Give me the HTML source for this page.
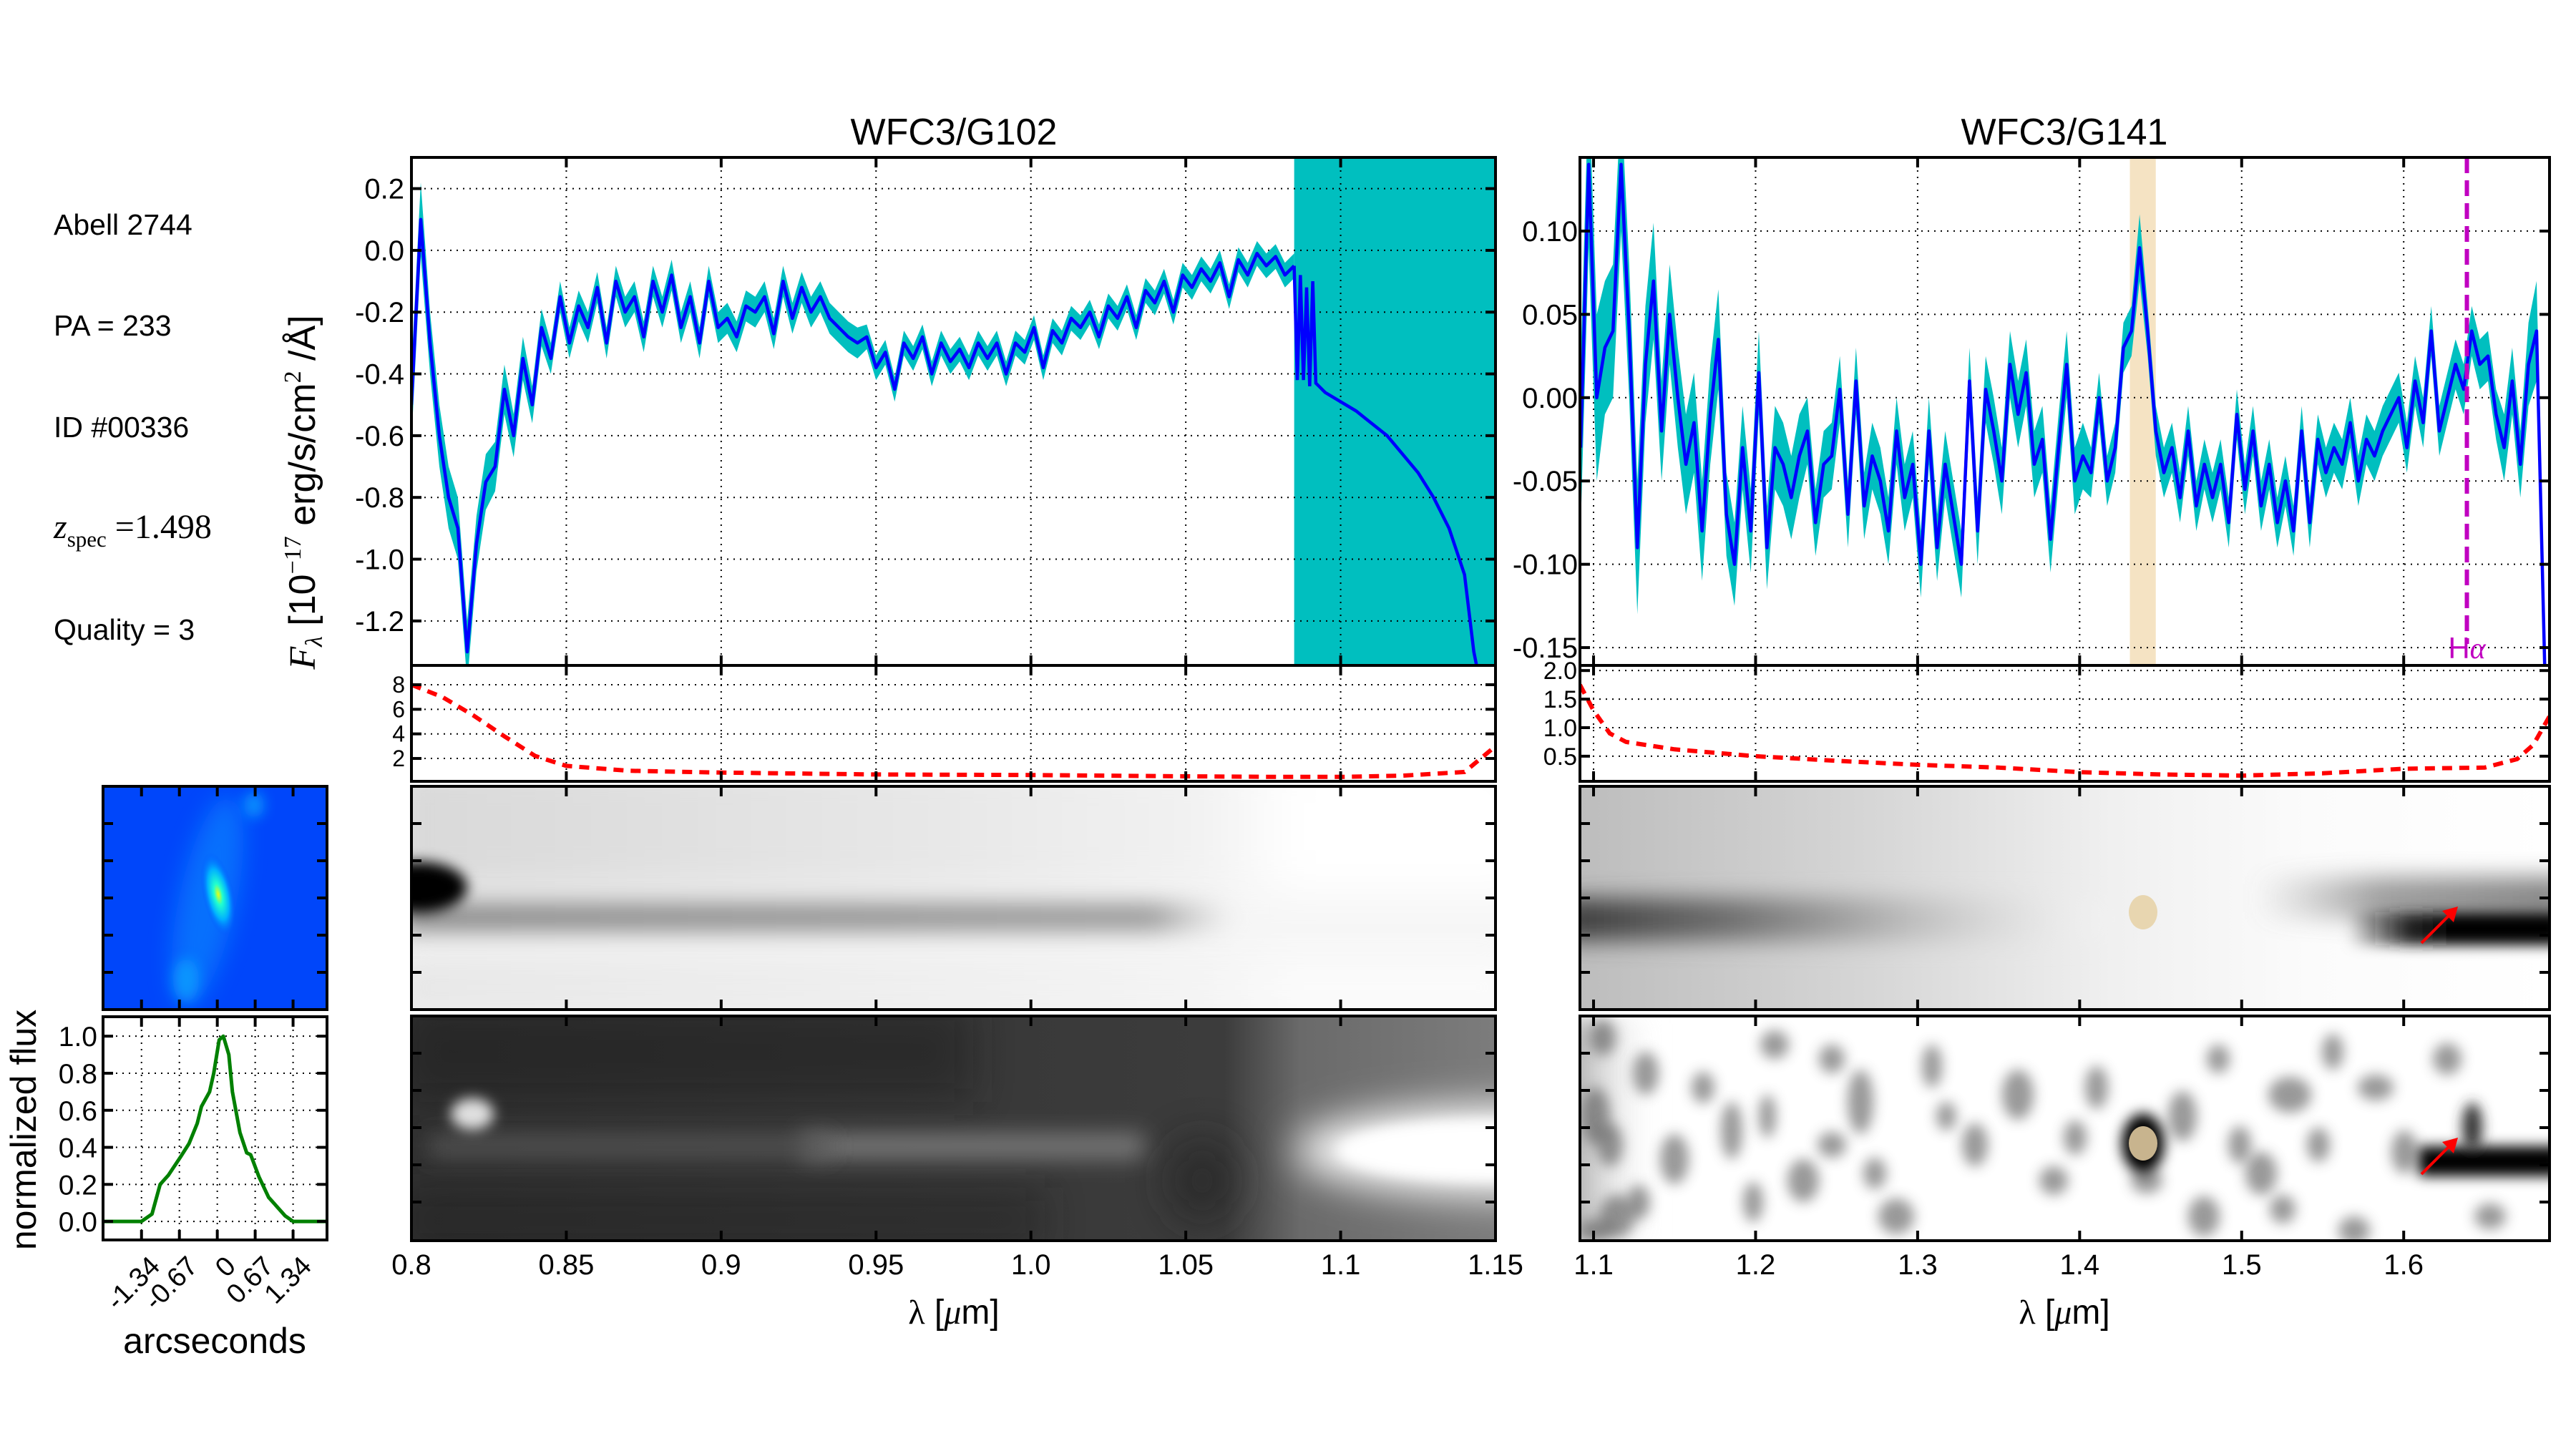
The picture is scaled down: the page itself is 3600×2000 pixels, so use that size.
<!DOCTYPE html>
<html><head><meta charset="utf-8">
<style>
html,body{margin:0;padding:0;background:#fff;}
svg{display:block;font-family:"Liberation Sans",sans-serif;}
</style></head>
<body>
<svg id="fig" xmlns="http://www.w3.org/2000/svg" width="3600" height="2000" viewBox="0 0 3600 2000">
<defs>
<filter id="b6" x="-100%" y="-100%" width="300%" height="300%"><feGaussianBlur stdDeviation="9"/></filter>
<filter id="b12" x="-100%" y="-100%" width="300%" height="300%"><feGaussianBlur stdDeviation="16"/></filter>
<filter id="b20" x="-100%" y="-100%" width="300%" height="300%"><feGaussianBlur stdDeviation="28"/></filter>
<clipPath id="cMain1"><rect x="575" y="220" width="1515" height="710"/></clipPath>
<clipPath id="cLow1"><rect x="575" y="930" width="1515" height="162"/></clipPath>
<clipPath id="cMain2"><rect x="2208" y="220" width="1355" height="710"/></clipPath>
<clipPath id="cLow2"><rect x="2208" y="930" width="1355" height="162"/></clipPath>
<clipPath id="cA"><rect x="575" y="1099" width="1515" height="312"/></clipPath>
<clipPath id="cB"><rect x="575" y="1420" width="1515" height="314"/></clipPath>
<clipPath id="cC"><rect x="2208" y="1099" width="1355" height="312"/></clipPath>
<clipPath id="cD"><rect x="2208" y="1420" width="1355" height="314"/></clipPath>
<clipPath id="cT"><rect x="144" y="1099" width="313" height="312"/></clipPath>
<clipPath id="cP"><rect x="144" y="1421" width="313" height="312"/></clipPath>
<radialGradient id="gThumb" cx="0.5" cy="0.5" r="0.5">
<stop offset="0" stop-color="#e8ff10"/><stop offset="0.25" stop-color="#20ffd0"/><stop offset="0.6" stop-color="#00b0ff"/><stop offset="1" stop-color="#0050ff" stop-opacity="0"/>
</radialGradient>
<linearGradient id="gA" x1="0" y1="0" x2="1" y2="0">
<stop offset="0" stop-color="#d8d8d8"/><stop offset="0.5" stop-color="#e8e8e8"/><stop offset="0.72" stop-color="#f2f2f2"/><stop offset="0.8" stop-color="#fff"/><stop offset="1" stop-color="#fff"/>
</linearGradient>
<linearGradient id="gABand" x1="0" y1="0" x2="1" y2="0">
<stop offset="0" stop-color="#888"/><stop offset="0.75" stop-color="#999"/><stop offset="0.8" stop-color="#bbb" stop-opacity="0.5"/><stop offset="0.85" stop-color="#fff" stop-opacity="0"/>
</linearGradient>
<linearGradient id="gB" x1="0" y1="0" x2="1" y2="0">
<stop offset="0" stop-color="#303030"/><stop offset="0.75" stop-color="#3c3c3c"/><stop offset="0.82" stop-color="#6a6a6a"/><stop offset="1" stop-color="#7c7c7c"/>
</linearGradient>
<linearGradient id="gC" x1="0" y1="0" x2="1" y2="0">
<stop offset="0" stop-color="#bdbdbd"/><stop offset="0.3" stop-color="#d6d6d6"/><stop offset="0.55" stop-color="#f0f0f0"/><stop offset="0.75" stop-color="#fbfbfb"/><stop offset="1" stop-color="#fff"/>
</linearGradient>
<linearGradient id="gCBand" x1="0" y1="0" x2="1" y2="0">
<stop offset="0" stop-color="#3a3a3a"/><stop offset="0.2" stop-color="#707070"/><stop offset="0.35" stop-color="#a8a8a8"/><stop offset="0.55" stop-color="#e0e0e0" stop-opacity="0.5"/><stop offset="0.65" stop-color="#fff" stop-opacity="0"/>
</linearGradient>
<linearGradient id="gCRight" x1="0" y1="0" x2="1" y2="0">
<stop offset="0" stop-color="#999" stop-opacity="0"/><stop offset="0.4" stop-color="#888"/><stop offset="1" stop-color="#666"/>
</linearGradient>
<linearGradient id="gCDark" x1="0" y1="0" x2="1" y2="0">
<stop offset="0" stop-color="#000" stop-opacity="0"/><stop offset="0.3" stop-color="#222"/><stop offset="0.5" stop-color="#000"/><stop offset="1" stop-color="#000"/>
</linearGradient>
<linearGradient id="gDLeft" x1="0" y1="0" x2="1" y2="0">
<stop offset="0" stop-color="#777"/><stop offset="1" stop-color="#fff" stop-opacity="0"/>
</linearGradient>
</defs>
<g id="layer"></g>
</svg>
<script>
// ---------------- data ----------------
const g102Start = 0.800;
const g102Step = 0.003;
const g102Flux = [-0.5,0.1,-0.3,-0.6,-0.8,-0.9,-1.3,-0.95,-0.75,-0.7,-0.45,-0.6,-0.35,-0.5,-0.25,-0.35,-0.15,-0.3,-0.18,-0.25,-0.12,-0.3,-0.1,-0.2,-0.15,-0.28,-0.1,-0.2,-0.08,-0.25,-0.15,-0.3,-0.1,-0.25,-0.22,-0.28,-0.18,-0.2,-0.15,-0.27,-0.1,-0.22,-0.12,-0.2,-0.15,-0.22,-0.25,-0.28,-0.3,-0.28,-0.38,-0.33,-0.45,-0.3,-0.35,-0.28,-0.4,-0.3,-0.36,-0.32,-0.38,-0.3,-0.35,-0.3,-0.4,-0.3,-0.33,-0.25,-0.38,-0.26,-0.3,-0.22,-0.25,-0.2,-0.28,-0.18,-0.22,-0.15,-0.25,-0.13,-0.17,-0.1,-0.2,-0.08,-0.12,-0.06,-0.1,-0.04,-0.15,-0.03,-0.08,-0.01,-0.05,-0.02,-0.08,-0.05];
const g102Err = [0.12,0.12,0.1,0.1,0.1,0.1,0.1,0.09,0.09,0.08,0.08,0.07,0.07,0.06,0.06,0.05,0.05,0.05,0.05,0.05,0.05,0.05,0.05,0.05,0.05,0.05,0.05,0.05,0.05,0.05,0.05,0.05,0.05,0.05,0.05,0.05,0.05,0.05,0.05,0.05,0.05,0.05,0.05,0.05,0.05,0.05,0.05,0.05,0.05,0.04,0.04,0.04,0.04,0.04,0.04,0.04,0.04,0.04,0.04,0.04,0.04,0.04,0.04,0.04,0.04,0.04,0.04,0.04,0.04,0.04,0.04,0.04,0.04,0.04,0.04,0.04,0.04,0.04,0.04,0.04,0.04,0.04,0.04,0.04,0.04,0.04,0.04,0.04,0.04,0.04,0.04,0.04,0.04,0.04,0.04,0.04];
const g102TailLam = [1.085,1.086,1.087,1.088,1.089,1.090,1.091,1.092,1.093,1.095,1.105,1.115,1.125,1.130,1.135,1.140,1.143,1.146];
const g102TailFlux = [-0.05,-0.42,-0.08,-0.42,-0.12,-0.44,-0.1,-0.43,-0.44,-0.46,-0.52,-0.6,-0.72,-0.8,-0.9,-1.05,-1.3,-1.45];
const g102ShadeStart = 1.085;
const g141Start = 1.092;
const g141Step = 0.005;
const g141Flux = [-0.03,0.14,0.0,0.03,0.04,0.14,0.04,-0.09,0.02,0.07,-0.02,0.05,0.0,-0.04,-0.015,-0.08,-0.01,0.035,-0.07,-0.1,-0.03,-0.08,0.015,-0.09,-0.03,-0.04,-0.06,-0.035,-0.02,-0.075,-0.04,-0.035,0.005,-0.07,0.01,-0.065,-0.035,-0.05,-0.08,-0.02,-0.06,-0.04,-0.1,-0.02,-0.09,-0.04,-0.07,-0.1,0.01,-0.08,0.005,-0.02,-0.05,0.02,-0.01,0.015,-0.04,-0.025,-0.085,-0.03,0.02,-0.05,-0.035,-0.045,0.0,-0.05,-0.03,0.03,0.04,0.09,0.04,-0.02,-0.045,-0.03,-0.06,-0.02,-0.065,-0.04,-0.06,-0.04,-0.075,-0.01,-0.055,-0.02,-0.065,-0.04,-0.075,-0.05,-0.08,-0.02,-0.075,-0.025,-0.045,-0.03,-0.04,-0.015,-0.05,-0.025,-0.035,-0.02,-0.01,0.0,-0.03,0.01,-0.015,0.04,-0.02,0.0,0.02,0.005,0.04,0.02,0.025,-0.01,-0.03,0.01,-0.04,0.02,0.04,-0.16];
const g141Err = [0.05,0.05,0.05,0.04,0.04,0.04,0.04,0.04,0.035,0.035,0.03,0.03,0.03,0.03,0.03,0.03,0.03,0.03,0.025,0.025,0.025,0.025,0.025,0.025,0.025,0.025,0.025,0.025,0.02,0.02,0.02,0.02,0.02,0.02,0.02,0.02,0.02,0.02,0.02,0.02,0.02,0.02,0.02,0.02,0.02,0.02,0.02,0.02,0.02,0.02,0.02,0.02,0.02,0.02,0.02,0.02,0.02,0.02,0.02,0.02,0.02,0.02,0.02,0.015,0.015,0.015,0.015,0.015,0.015,0.02,0.015,0.015,0.015,0.015,0.015,0.015,0.015,0.015,0.015,0.015,0.015,0.015,0.015,0.015,0.015,0.015,0.015,0.015,0.015,0.015,0.015,0.015,0.015,0.015,0.015,0.015,0.015,0.015,0.015,0.015,0.015,0.015,0.015,0.015,0.015,0.015,0.015,0.015,0.015,0.015,0.015,0.015,0.015,0.015,0.02,0.02,0.02,0.025,0.03,0.03];
const g141Line = [1.431, 1.447];
const haLam = 1.639;
const sens102Lam = [0.8,0.81,0.82,0.83,0.84,0.85,0.87,0.9,0.95,1.0,1.05,1.08,1.1,1.12,1.14,1.15];
const sens102Val = [8,7,5.5,3.8,2.2,1.4,1.0,0.85,0.7,0.65,0.55,0.5,0.5,0.6,0.9,3.0];
const sens141Lam = [1.0916,1.1,1.11,1.12,1.15,1.2,1.25,1.3,1.35,1.4,1.45,1.5,1.55,1.6,1.65,1.67,1.68,1.69];
const sens141Val = [1.75,1.3,0.9,0.75,0.62,0.5,0.42,0.35,0.3,0.22,0.18,0.16,0.2,0.28,0.3,0.45,0.7,1.2];
const profX = [-2.02,-1.34,-1.155,-1.01,-0.864,-0.646,-0.5,-0.354,-0.28,-0.136,-0.063,0.034,0.107,0.204,0.267,0.4,0.52,0.59,0.738,0.908,1.054,1.2,1.34,1.94];
const profY = [0,0,0.04,0.2,0.25,0.35,0.42,0.53,0.62,0.7,0.8,0.98,1.0,0.9,0.7,0.48,0.37,0.36,0.24,0.13,0.08,0.03,0,0];
const x1Ticks = [0.8,0.85,0.9,0.95,1.0,1.05,1.1,1.15];
const x1Labels = ["0.8","0.85","0.9","0.95","1.0","1.05","1.1","1.15"];
const y1Ticks = [0.2,0.0,-0.2,-0.4,-0.6,-0.8,-1.0,-1.2];
const y1Labels = ["0.2","0.0","-0.2","-0.4","-0.6","-0.8","-1.0","-1.2"];
const yl1Ticks = [8,6,4,2];
const yl1Labels = ["8","6","4","2"];
const x2Ticks = [1.1,1.2,1.3,1.4,1.5,1.6];
const x2Labels = ["1.1","1.2","1.3","1.4","1.5","1.6"];
const y2Ticks = [0.10,0.05,0.0,-0.05,-0.10,-0.15];
const y2Labels = ["0.10","0.05","0.00","-0.05","-0.10","-0.15"];
const yl2Ticks = [2.0,1.5,1.0,0.5];
const yl2Labels = ["2.0","1.5","1.0","0.5"];
const pxTicks = [-1.34,-0.67,0,0.67,1.34];
const pxLabels = ["-1.34","-0.67","0","0.67","1.34"];
const pyTicks = [0,0.2,0.4,0.6,0.8,1.0];
const pyLabels = ["0.0","0.2","0.4","0.6","0.8","1.0"];

// ---------------- scales ----------------
const X1 = l => 575 + (l-0.8)/0.35*1515;
const Y1 = v => 220 + (0.301-v)/1.645*710;
const YL1 = v => 930 + (9.57-v)/9.43*162;
const X2 = l => 2208 + (l-1.0916)/0.5984*1355;
const Y2 = v => 220 + (0.1442-v)/0.3049*710;
const YL2 = v => 930 + (2.09-v)/2.03*162;
const XP = a => 144 + (a+2.02)/3.96*313;
const YP = v => 1421 + (1.105-v)/1.205*312;

const NS = "http://www.w3.org/2000/svg";
const root = document.getElementById('layer');
function mk(tag, attrs, parent){
  const e = document.createElementNS(NS, tag);
  for (const k in attrs) e.setAttribute(k, attrs[k]);
  (parent||root).appendChild(e);
  return e;
}
function txt(s, x, y, size, anchor, parent){
  const t = mk('text', {x:x, y:y, 'font-size':size, 'text-anchor':anchor||'start', fill:'#000'}, parent);
  t.textContent = s;
  return t;
}
function grp(clip){
  const g = mk('g', clip ? {'clip-path':'url(#'+clip+')'} : {});
  return g;
}
function poly(pts){ return pts.map(p=>p[0].toFixed(1)+','+p[1].toFixed(1)).join(' '); }

// ---------- 2D images ----------
let g, e;
// G102 model
g = grp('cA');


mk('rect',{x:575,y:1099,width:1515,height:312,fill:'#f6f6f6'},g);
mk('rect',{x:540,y:1060,width:1590,height:190,fill:'url(#gA)',filter:'url(#b20)'},g);
mk('rect',{x:540,y:1330,width:1590,height:100,fill:'url(#gA)',opacity:0.5,filter:'url(#b20)'},g);
mk('rect',{x:560,y:1262,width:1400,height:40,fill:'url(#gABand)',filter:'url(#b12)'},g);
mk('ellipse',{cx:585,cy:1240,rx:68,ry:36,fill:'#000',filter:'url(#b6)'},g);
// G102 data
g = grp('cB');


mk('rect',{x:575,y:1420,width:1515,height:314,fill:'url(#gB)'},g);
mk('rect',{x:560,y:1400,width:800,height:140,fill:'#1a1a1a',opacity:0.45,filter:'url(#b20)'},g);
mk('rect',{x:560,y:1660,width:900,height:90,fill:'#1a1a1a',opacity:0.4,filter:'url(#b20)'},g);
mk('rect',{x:1120,y:1585,width:480,height:34,fill:'#7a7a7a',filter:'url(#b12)'},g);
mk('rect',{x:600,y:1588,width:560,height:28,fill:'#555',filter:'url(#b12)'},g);
mk('ellipse',{cx:2090,cy:1608,rx:280,ry:62,fill:'#fff',filter:'url(#b20)'},g);
mk('ellipse',{cx:2080,cy:1608,rx:210,ry:42,fill:'#fff',filter:'url(#b6)'},g);
mk('ellipse',{cx:1680,cy:1650,rx:50,ry:60,fill:'#222',opacity:0.6,filter:'url(#b20)'},g);
mk('ellipse',{cx:660,cy:1557,rx:30,ry:22,fill:'#e0e0e0',filter:'url(#b6)'},g);
// G141 model
g = grp('cC');


mk('rect',{x:2208,y:1099,width:1355,height:312,fill:'url(#gC)'},g);
mk('rect',{x:2180,y:1255,width:1200,height:60,fill:'url(#gCBand)',filter:'url(#b12)'},g);
mk('rect',{x:3150,y:1225,width:440,height:60,fill:'url(#gCRight)',opacity:0.8,filter:'url(#b12)'},g);
mk('rect',{x:3280,y:1275,width:300,height:46,fill:'url(#gCDark)',filter:'url(#b6)'},g);
mk('ellipse',{cx:2995,cy:1275,rx:20,ry:24,fill:'#e8d6b0'},g);
// G141 data
g = grp('cD');


mk('rect',{x:2208,y:1420,width:1355,height:314,fill:'#fff'},g);
mk('rect',{x:2180,y:1420,width:140,height:320,fill:'url(#gDLeft)',opacity:0.8,filter:'url(#b12)'},g);
const blots = [[2230,1560,20,40],[2260,1700,25,30],[2300,1500,18,30],[2340,1620,20,35],[2420,1580,15,40],[2480,1460,20,20],[2520,1650,22,30],[2600,1540,18,45],[2650,1700,25,25],[2700,1490,14,30],[2760,1600,18,30],[2820,1530,22,35],[2870,1650,20,20],[2930,1520,16,30],[3050,1560,20,35],[3100,1480,16,20],[3160,1640,22,30],[3200,1530,30,25],[3260,1470,15,25],[3290,1720,22,20],[3320,1520,25,18],[3360,1610,18,30],[2240,1450,18,25],[3080,1700,22,28],[2470,1560,12,30],[2250,1600,18,30],[2290,1680,16,24],[2380,1520,16,22],[2450,1680,14,28],[2560,1600,20,18],[2620,1640,16,22],[2720,1560,14,20],[2900,1590,16,24],[3000,1650,22,18],[3130,1600,16,26],[3190,1690,18,20],[3240,1600,16,24],[3420,1480,20,22],[3480,1700,22,18],[2230,1720,24,16],[2560,1480,18,20]];
blots.forEach(b=>{ mk('ellipse',{cx:b[0],cy:b[1],rx:b[2],ry:b[3],fill:'#555',opacity:0.6,filter:'url(#b6)'},g); });
mk('ellipse',{cx:2995,cy:1598,rx:30,ry:42,fill:'#000',filter:'url(#b6)'},g);
mk('rect',{x:3380,y:1602,width:200,height:42,fill:'#000',filter:'url(#b6)'},g);
mk('ellipse',{cx:3455,cy:1575,rx:14,ry:34,fill:'#333',filter:'url(#b6)'},g);
mk('ellipse',{cx:2995,cy:1598,rx:20,ry:24,fill:'#c8b48e'},g);
// arrows
[[3384,1318,3435,1267],[3384,1641,3435,1590]].forEach((a,i)=>{
  const ar = mk('g',{});
  
  
  mk('line',{x1:a[0],y1:a[1],x2:a[2]-10,y2:a[3]+10,stroke:'#f00','stroke-width':4},ar);
  mk('polygon',{points:poly([[a[2],a[3]],[a[2]-22,a[3]+6],[a[2]-6,a[3]+22]]),fill:'#f00'},ar);
});
// thumbnail
g = grp('cT');


mk('rect',{x:144,y:1099,width:313,height:312,fill:'#0046fa'},g);
mk('ellipse',{cx:290,cy:1260,rx:40,ry:150,fill:'#0a8cff',opacity:0.6,transform:'rotate(12 290 1260)',filter:'url(#b12)'},g);
mk('ellipse',{cx:305,cy:1250,rx:22,ry:60,fill:'url(#gThumb)',transform:'rotate(-12 305 1250)'},g);
mk('ellipse',{cx:260,cy:1370,rx:18,ry:30,fill:'#10a8ff',opacity:0.7,filter:'url(#b6)'},g);
mk('ellipse',{cx:355,cy:1125,rx:14,ry:18,fill:'#10b0ff',opacity:0.7,filter:'url(#b6)'},g);

// ---------- spectra ----------
function specPanel(X, Y, start, step, flux, err, clip, name){
  const gg = grp(clip);
  
  
  const up = [], lo = [], ln = [];
  flux.forEach((v,i)=>{
    const l = start + i*step;
    up.push([X(l), Y(v+err[i])]);
    lo.push([X(l), Y(v-err[i])]);
    ln.push([X(l), Y(v)]);
  });
  const band = mk('polygon',{points:poly(up.concat(lo.reverse())),fill:'#00bfbf'},gg);
  
  
  const line = mk('polyline',{points:poly(ln),fill:'none',stroke:'#0000ff','stroke-width':4.5,'stroke-linejoin':'round'},gg);
  
  
  return gg;
}
function grid(X, Y, xt, yt, x0, x1, y0, y1, parent){
  xt.forEach(t=>{ const xx=X(t); if(xx>x0+3 && xx<x1-3) mk('line',{x1:xx,y1:y0,x2:xx,y2:y1,stroke:'#000','stroke-width':2,'stroke-dasharray':'2,7'},parent); });
  yt.forEach(t=>{ const yy=Y(t); if(yy>y0+3 && yy<y1-3) mk('line',{x1:x0,y1:yy,x2:x1,y2:yy,stroke:'#000','stroke-width':2,'stroke-dasharray':'2,7'},parent); });
}
function frame(x0,y0,w,h,xt,X,yt,Y,name){
  const f = mk('g',{});
  
  
  mk('rect',{x:x0,y:y0,width:w,height:h,fill:'none',stroke:'#000','stroke-width':4},f);
  const L=14;
  if (xt) xt.forEach(t=>{ const xx=X(t); mk('line',{x1:xx,y1:y0,x2:xx,y2:y0+L,stroke:'#000','stroke-width':4},f); mk('line',{x1:xx,y1:y0+h,x2:xx,y2:y0+h-L,stroke:'#000','stroke-width':4},f); });
  if (yt) yt.forEach(t=>{ const yy=Y(t); mk('line',{x1:x0,y1:yy,x2:x0+L,y2:yy,stroke:'#000','stroke-width':4},f); mk('line',{x1:x0+w,y1:yy,x2:x0+w-L,y2:yy,stroke:'#000','stroke-width':4},f); });
  return f;
}

// G102 main
let gm = grp('cMain1');


const shade = mk('rect',{x:X1(g102ShadeStart),y:220,width:2090-X1(g102ShadeStart),height:710,fill:'#00bfbf'},gm);


grid(X1,Y1,x1Ticks,y1Ticks,575,2090,220,930,gm);
specPanel(X1,Y1,g102Start,g102Step,g102Flux,g102Err,'cMain1','g102-spectrum');
let tailG = grp('cMain1');
const tail = mk('polyline',{points:poly(g102TailLam.map((l,i)=>[X1(l),Y1(g102TailFlux[i])])),fill:'none',stroke:'#0000ff','stroke-width':4.5},tailG);


frame(575,220,1515,710,x1Ticks,X1,y1Ticks,Y1,'g102-main-axes');
y1Ticks.forEach((t,i)=>{ const tt = txt(y1Labels[i],565,Y1(t)+14,40,'end');   });

// G102 sensitivity
gm = grp('cLow1');


grid(X1,YL1,x1Ticks,yl1Ticks,575,2090,930,1092,gm);
const s1 = mk('polyline',{points:poly(sens102Lam.map((l,i)=>[X1(l),YL1(sens102Val[i])])),fill:'none',stroke:'#f00','stroke-width':6,'stroke-dasharray':'14,10'},gm);


frame(575,930,1515,162,x1Ticks,X1,yl1Ticks,YL1,'g102-sensitivity-axes');
yl1Ticks.forEach((t,i)=>{ const tt = txt(yl1Labels[i],566,YL1(t)+11,32,'end');   });

// G141 main
gm = grp('cMain2');


const lineBand = mk('rect',{x:X2(g141Line[0]),y:220,width:X2(g141Line[1])-X2(g141Line[0]),height:710,fill:'#f5e3c3'},gm);


grid(X2,Y2,x2Ticks,y2Ticks,2208,3563,220,930,gm);
specPanel(X2,Y2,g141Start,g141Step,g141Flux,g141Err,'cMain2','g141-spectrum');
let ha = mk('line',{x1:X2(haLam),y1:220,x2:X2(haLam),y2:900,stroke:'#c000c0','stroke-width':6,'stroke-dasharray':'22,10'});


let haT = mk('text',{x:X2(haLam),y:920,'font-size':42,'text-anchor':'middle',fill:'#c000c0','font-family':'"Liberation Sans",sans-serif'});
haT.textContent = 'H';
const haTs = mk('tspan',{'font-family':'"Liberation Serif",serif','font-style':'italic'},haT);
haTs.textContent = 'α';


frame(2208,220,1355,710,x2Ticks,X2,y2Ticks,Y2,'g141-main-axes');
y2Ticks.forEach((t,i)=>{ const tt = txt(y2Labels[i],2205,Y2(t)+14,40,'end');   });

// G141 sensitivity
gm = grp('cLow2');


grid(X2,YL2,x2Ticks,yl2Ticks,2208,3563,930,1092,gm);
const s2 = mk('polyline',{points:poly(sens141Lam.map((l,i)=>[X2(l),YL2(sens141Val[i])])),fill:'none',stroke:'#f00','stroke-width':6,'stroke-dasharray':'14,10'},gm);


frame(2208,930,1355,162,x2Ticks,X2,yl2Ticks,YL2,'g141-sensitivity-axes');
yl2Ticks.forEach((t,i)=>{ const tt = txt(yl2Labels[i],2204,YL2(t)+12,34,'end');   });

// 2D frames
const yt2d = [1151,1203,1255,1307,1359];
const yt2dB = [1472,1524,1576,1628,1680];
const idY = v => v;
frame(575,1099,1515,312,x1Ticks,X1,yt2d,idY,'g102-model-2d-frame');
frame(575,1420,1515,314,x1Ticks,X1,yt2dB,idY,'g102-data-2d-frame');
frame(2208,1099,1355,312,x2Ticks,X2,yt2d,idY,'g141-model-2d-frame');
frame(2208,1420,1355,314,x2Ticks,X2,yt2dB,idY,'g141-data-2d-frame');
x1Ticks.forEach((t,i)=>{ const tt = txt(x1Labels[i],X1(t),1781,40,'middle');   });
x2Ticks.forEach((t,i)=>{ const tt = txt(x2Labels[i],X2(t),1781,40,'middle');   });

// thumbnail frame
frame(144,1099,313,312,pxTicks,XP,[1151,1203,1255,1307,1359],idY,'thumbnail-frame');

// profile
gm = grp('cP');


grid(XP,YP,pxTicks,pyTicks,144,457,1421,1733,gm);
const pl = mk('polyline',{points:poly(profX.map((a,i)=>[XP(a),YP(profY[i])])),fill:'none',stroke:'#008000','stroke-width':5,'stroke-linejoin':'round'},gm);


frame(144,1421,313,312,pxTicks,XP,pyTicks,YP,'profile-axes');
pyTicks.forEach((t,i)=>{ const tt = txt(pyLabels[i],136,YP(t)+14,39,'end');   });
pxTicks.forEach((t,i)=>{ const x=XP(t); const tt = txt(pxLabels[i],x+8,1752,38,'end'); tt.setAttribute('transform','rotate(-45 '+(x+8)+' 1752)'); tt.setAttribute('dy','28');   });
</script>
<script>
// static labels
(function(){
  const NS="http://www.w3.org/2000/svg", svg=document.getElementById('fig');
  function T(s,x,y,size,anchor){const t=document.createElementNS(NS,'text');t.setAttribute('x',x);t.setAttribute('y',y);t.setAttribute('font-size',size);t.setAttribute('text-anchor',anchor);t.textContent=s;svg.appendChild(t);return t;}
  let t;
  t=T('WFC3/G102',1333,202,52,'middle');
  
  
  t=T('WFC3/G141',2885,202,52,'middle');
  
  
  t=T('Abell 2744',75,328,41,'start');
  
  
  t=T('PA = 233',75,469,41,'start');
  
  
  t=T('ID #00336',75,611,41,'start');
  
  
  t=T('Quality = 3',75,894,41,'start');
  
  
  t=document.createElementNS(NS,'text');
  t.setAttribute('x',75);t.setAttribute('y',752);t.setAttribute('font-size',48);t.setAttribute('font-family','"Liberation Serif",serif');
  t.innerHTML='<tspan font-style="italic">z</tspan><tspan font-size="31" dy="12">spec</tspan><tspan dy="-12"> =1.498</tspan>';
  svg.appendChild(t);
  
  
  t=document.createElementNS(NS,'text');
  t.setAttribute('transform','translate(440 688) rotate(-90)');t.setAttribute('text-anchor','middle');t.setAttribute('font-size',52);
  t.innerHTML='<tspan font-family="Liberation Serif,serif" font-style="italic">F</tspan><tspan font-family="Liberation Serif,serif" font-style="italic" font-size="34" dy="10">λ</tspan><tspan dy="-10"> [10</tspan><tspan font-family="Liberation Serif,serif" font-size="34" dy="-20">−17</tspan><tspan dy="20">  erg/s/cm</tspan><tspan font-family="Liberation Serif,serif" font-size="34" dy="-20">2</tspan><tspan dy="20"> /Å]</tspan>';
  svg.appendChild(t);
  
  
  [[1333,'g102-x-axis-title'],[2885,'g141-x-axis-title']].forEach(p=>{
    const a=document.createElementNS(NS,'text');
    a.setAttribute('x',p[0]);a.setAttribute('y',1850);a.setAttribute('font-size',48);a.setAttribute('text-anchor','middle');
    a.innerHTML='<tspan font-family="Liberation Serif,serif">λ</tspan> [<tspan font-family="Liberation Serif,serif" font-style="italic">μ</tspan>m]';
    svg.appendChild(a);
    
    
  });
  t=T('arcseconds',300,1891,50,'middle');
  
  
  t=T('normalized flux',0,0,50,'middle');
  t.setAttribute('transform','translate(50 1579) rotate(-90)');
  
  
})();
</script>
</body></html>
